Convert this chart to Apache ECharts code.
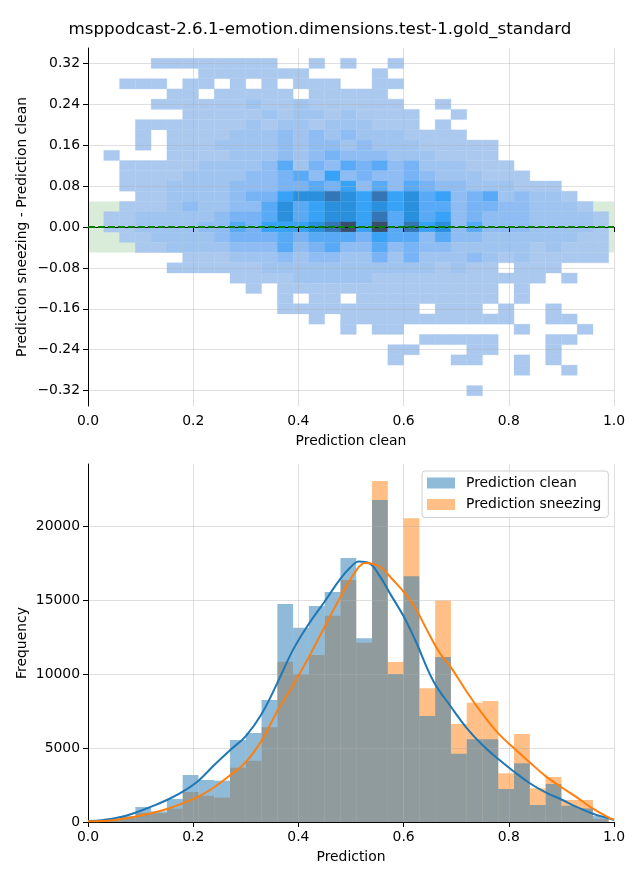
<!DOCTYPE html>
<html><head><meta charset="utf-8">
<script src="https://cdn.jsdelivr.net/npm/echarts@6/dist/echarts.min.js"></script>
<style>html,body{margin:0;padding:0;background:#fff}#c{width:640px;height:880px}</style>
</head><body><div id="c"></div>
<script>
const FONT = 'DejaVu Sans';
const titleText = 'msppodcast-2.6.1-emotion.dimensions.test-1.gold_standard';

// shared x bins (bin starts, width 0.03)
const xBinWidth = 0.03;
const xBinStarts = [0.00,0.03,0.06,0.09,0.12,0.15,0.18,0.21,0.24,0.27,0.30,0.33,0.36,0.39,0.42,0.45,0.48,0.51,0.54,0.57,0.60,0.63,0.66,0.69,0.72,0.75,0.78,0.81,0.84,0.87,0.90,0.93,0.96];

// top: 2D histogram, rows (y bin centres) from top to bottom
const yBinHeight = 0.02;
const yBinCenters = [0.32,0.30,0.28,0.26,0.24,0.22,0.20,0.18,0.16,0.14,0.12,0.10,0.08,0.06,0.04,0.02,0.00,-0.02,-0.04,-0.06,-0.08,-0.10,-0.12,-0.14,-0.16,-0.18,-0.20,-0.22,-0.24,-0.26,-0.28,-0.30,-0.32];
// density level per cell (0 = empty, 1..9 = light..dark), one char per x bin
const heatRows = [
  "0000 1111 1111 0010 1001 0000 0000 0000 0",
  "0000 0001 1111 1100 0010 0000 0000 0000 0",
  "0011 1011 0101 0111 0011 0000 0000 0000 0",
  "0000 0110 1111 1011 1110 0000 0000 0000 0",
  "0000 1111 1121 1211 1111 0010 0000 0000 0",
  "0000 0011 1112 1221 2111 1001 0000 0000 0",
  "0001 1111 1121 2212 2211 1010 0000 0000 0",
  "0001 0111 1222 3232 3222 1111 0000 0000 0",
  "0001 0111 2222 3233 2322 2111 1100 0000 0",
  "0100 0111 1222 3234 3332 2211 1100 0000 0",
  "0011 1112 2223 5243 5453 4222 1110 0000 0",
  "0011 1122 2233 4536 3433 4322 2111 0000 0",
  "0011 1222 2333 4454 6353 5433 2221 1100 0",
  "0001 1222 2344 6778 7686 7563 4523 2210 0",
  "0011 1232 2335 7567 7676 7553 4433 2221 0",
  "0112 2222 3445 7567 7685 7563 4333 2222 1",
  "0112 2223 3546 6678 9695 8673 5333 2222 1",
  "0011 2222 3444 5455 5465 5353 3222 2221 1",
  "0001 1222 2333 5345 3353 4332 2222 1211 1",
  "0000 0011 1222 3233 2242 4222 3212 1111 1",
  "0000 0111 1112 2222 2222 2212 1101 1100 0",
  "0000 0000 0111 1222 2211 1111 1111 1010 0",
  "0000 0000 0010 1111 1111 1111 1101 0000 0",
  "0000 0000 0000 1011 0111 1111 1101 0000 0",
  "0000 0000 0000 1111 1111 1011 1010 0100 0",
  "0000 0000 0000 0010 1111 1111 1110 0110 0",
  "0000 0000 0000 0000 1011 0000 0001 0001 0",
  "0000 0000 0000 0000 0000 0111 1100 0110 0",
  "0000 0000 0000 0000 0001 1000 1100 0100 0",
  "0000 0000 0000 0000 0001 0001 1001 0100 0",
  "0000 0000 0000 0000 0000 0000 0001 0010 0",
  "0000 0000 0000 0000 0000 0000 0000 0000 0",
  "0000 0000 0000 0000 0000 0000 1000 0000 0"
];
const heatColors = ['#abc9ef','#a0c4f0','#8fbdf3','#78b3f5','#58aaf6','#38a2f7','#2a8fdc','#3476b5','#3a4e6c'];
const bandHalfWidth = 0.05;
const topYTicks = [-0.32,-0.24,-0.16,-0.08,0,0.08,0.16,0.24,0.32];
const topYRange = [-0.35, 0.35];

// bottom: histograms
const countsClean =    [60,220,400,1010,720,1560,3176,2838,2793,5540,6020,8243,14730,13131,14595,15541,17840,12420,21756,10000,16600,7170,11150,4615,5600,5600,2230,3965,1150,2568,1100,920,400];
const countsSneezing = [50,180,320,620,600,900,2030,1770,1650,3670,4144,6410,10833,9977,11284,13942,16352,12117,23040,10820,20518,9030,14970,6620,8063,8176,3290,5946,2274,3040,1490,1490,200];
const kdeCleanX = [0,0.03,0.06,0.09,0.12,0.15,0.18,0.21,0.24,0.27,0.30,0.33,0.36,0.39,0.42,0.45,0.48,0.50,0.515,0.535,0.555,0.574,0.60,0.622,0.657,0.69,0.72,0.75,0.78,0.81,0.84,0.87,0.90,0.93,0.96,0.99,1.0];
const kdeCleanY = [60,135,315,630,1036,1486,2050,2793,3851,4850,5800,7300,9400,11650,13400,14900,16450,17250,17600,17480,16600,15450,13900,12300,9500,7790,6350,5200,4250,3400,2620,2000,1520,1000,560,250,140];
const kdeSneezX = [0,0.03,0.06,0.09,0.12,0.15,0.18,0.21,0.24,0.27,0.30,0.33,0.36,0.39,0.42,0.45,0.48,0.51,0.527,0.555,0.58,0.606,0.625,0.644,0.669,0.69,0.72,0.75,0.78,0.81,0.84,0.87,0.90,0.93,0.96,0.99,1.0];
const kdeSneezY = [50,70,180,360,585,878,1261,1711,2350,3150,4050,5500,7500,9250,11150,13200,15200,17000,17500,17250,16350,15300,14300,13000,11400,10450,8800,7300,5990,4980,4020,3100,2350,1650,900,300,170];
const bottomYTicks = [0,5000,10000,15000,20000];
const bottomYMax = 24192;

const heatData = [];
heatRows.forEach((row, r) => {
  const s = row.replace(/ /g, '');
  for (let i = 0; i < s.length; i++) {
    const v = +s[i];
    if (v > 0) heatData.push([xBinStarts[i], yBinCenters[r], v]);
  }
});
const histClean = xBinStarts.map((s, i) => [s, s + xBinWidth, countsClean[i]]);
const histSneez = xBinStarts.map((s, i) => [s, s + xBinWidth, countsSneezing[i]]);

const txt = { fontFamily: FONT, fontSize: 13.9, color: '#000' };
const gridLine = { show: true, lineStyle: { color: 'rgba(176,176,176,0.5)', width: 0.8 } };
const axLine = { show: true, lineStyle: { color: '#000', width: 1 } };
const axTick = { show: true, length: 5, lineStyle: { color: '#000', width: 1 } };

function rectItem(api, xa, ya, xb, yb, fill) {
  const p0 = api.coord([xa, ya]);
  const p1 = api.coord([xb, yb]);
  return { type: 'rect', shape: { x: Math.min(p0[0], p1[0]), y: Math.min(p0[1], p1[1]), width: Math.abs(p1[0] - p0[0]), height: Math.abs(p1[1] - p0[1]) }, style: { fill: fill } };
}

const option = {
  animation: false,
  backgroundColor: '#fff',
  title: { text: titleText, left: 'center', top: 16, textStyle: { fontFamily: FONT, fontSize: 16.7, fontWeight: 'normal', color: '#000' } },
  grid: [
    { left: 88, top: 48, width: 526, height: 358 },
    { left: 88, top: 464, width: 526, height: 358 }
  ],
  xAxis: [
    { type: 'value', gridIndex: 0, min: 0, max: 1, interval: 0.2, z: 3,
      name: 'Prediction clean', nameLocation: 'middle', nameGap: 28, nameTextStyle: txt, nameMoveOverlap: false,
      axisLine: axLine, axisTick: axTick, splitLine: gridLine,
      axisLabel: Object.assign({ margin: 8, formatter: v => v.toFixed(1) }, txt) },
    { type: 'value', gridIndex: 1, min: 0, max: 1, interval: 0.2, z: 3,
      name: 'Prediction', nameLocation: 'middle', nameGap: 28, nameTextStyle: txt, nameMoveOverlap: false,
      axisLine: axLine, axisTick: axTick, splitLine: gridLine,
      axisLabel: Object.assign({ margin: 8, formatter: v => v.toFixed(1) }, txt) }
  ],
  yAxis: [
    { type: 'value', gridIndex: 0, min: topYRange[0], max: topYRange[1], z: 3,
      name: 'Prediction sneezing - Prediction clean', nameLocation: 'middle', nameGap: 59, nameTextStyle: txt, nameMoveOverlap: false,
      axisLine: axLine, axisTick: Object.assign({ customValues: topYTicks }, axTick), splitLine: gridLine,
      axisLabel: Object.assign({ margin: 8, customValues: topYTicks, formatter: v => v.toFixed(2).replace('-', '\u2212') }, txt) },
    { type: 'value', gridIndex: 1, min: 0, max: bottomYMax, z: 3,
      name: 'Frequency', nameLocation: 'middle', nameGap: 59, nameTextStyle: txt, nameMoveOverlap: false,
      axisLine: axLine, axisTick: Object.assign({ customValues: bottomYTicks }, axTick), splitLine: gridLine,
      axisLabel: Object.assign({ margin: 8, customValues: bottomYTicks, formatter: v => String(Math.round(v)) }, txt) }
  ],
  visualMap: [{ type: 'continuous', show: false, seriesIndex: 1, dimension: 2, min: 1, max: 9, inRange: { color: heatColors } }],
  legend: {
    left: 422, top: 471, orient: 'vertical', itemWidth: 28, itemHeight: 11, itemGap: 5.5,
    padding: [4, 7, 5, 5], backgroundColor: 'rgba(255,255,255,0.8)', borderColor: '#d0d0d0', borderWidth: 1, borderRadius: 3,
    textStyle: { fontFamily: FONT, fontSize: 13.9, color: '#000', lineHeight: 16, padding: [0, 0, 0, 6] },
    data: [{ name: 'Prediction clean', icon: 'rect' }, { name: 'Prediction sneezing', icon: 'rect' }]
  },
  series: [
    { type: 'custom', name: 'band', xAxisIndex: 0, yAxisIndex: 0, z: 1, clip: true,
      data: [[-bandHalfWidth, bandHalfWidth]],
      renderItem: (p, api) => rectItem(api, 0, api.value(1), 1, api.value(0), 'rgba(0,128,0,0.15)') },
    { type: 'custom', name: 'heat', xAxisIndex: 0, yAxisIndex: 0, z: 2, clip: true,
      data: heatData,
      renderItem: (p, api) => {
        const x0 = api.value(0), yc = api.value(1);
        const it = rectItem(api, x0, yc + yBinHeight / 2, x0 + xBinWidth, yc - yBinHeight / 2, api.visual('color'));
        it.style.stroke = api.visual('color'); it.style.lineWidth = 0.3;
        return it;
      } },
    { type: 'line', name: 'zero', xAxisIndex: 0, yAxisIndex: 0, z: 5, symbol: 'none', silent: true,
      data: [[0, 0], [1, 0]], lineStyle: { color: '#008000', width: 2, type: [7, 3] } },
    { type: 'custom', name: 'Prediction sneezing', xAxisIndex: 1, yAxisIndex: 1, z: 2, clip: true,
      itemStyle: { color: 'rgba(255,127,14,0.5)' },
      data: histSneez,
      renderItem: (p, api) => rectItem(api, api.value(0), api.value(2), api.value(1), 0, 'rgba(255,127,14,0.5)') },
    { type: 'custom', name: 'Prediction clean', xAxisIndex: 1, yAxisIndex: 1, z: 2, clip: true,
      itemStyle: { color: 'rgba(31,119,180,0.5)' },
      data: histClean,
      renderItem: (p, api) => rectItem(api, api.value(0), api.value(2), api.value(1), 0, 'rgba(31,119,180,0.5)') },
    { type: 'line', name: 'kde clean', xAxisIndex: 1, yAxisIndex: 1, z: 5, symbol: 'none', smooth: 0.4, silent: true,
      data: kdeCleanX.map((x, i) => [x, kdeCleanY[i]]), lineStyle: { color: '#1f77b4', width: 2 } },
    { type: 'line', name: 'kde sneezing', xAxisIndex: 1, yAxisIndex: 1, z: 5, symbol: 'none', smooth: 0.4, silent: true,
      data: kdeSneezX.map((x, i) => [x, kdeSneezY[i]]), lineStyle: { color: '#ff7f0e', width: 2 } }
  ]
};
const chart = echarts.init(document.getElementById('c'), null, { renderer: 'canvas', width: 640, height: 880 });
chart.setOption(option);
</script>
</body></html>
